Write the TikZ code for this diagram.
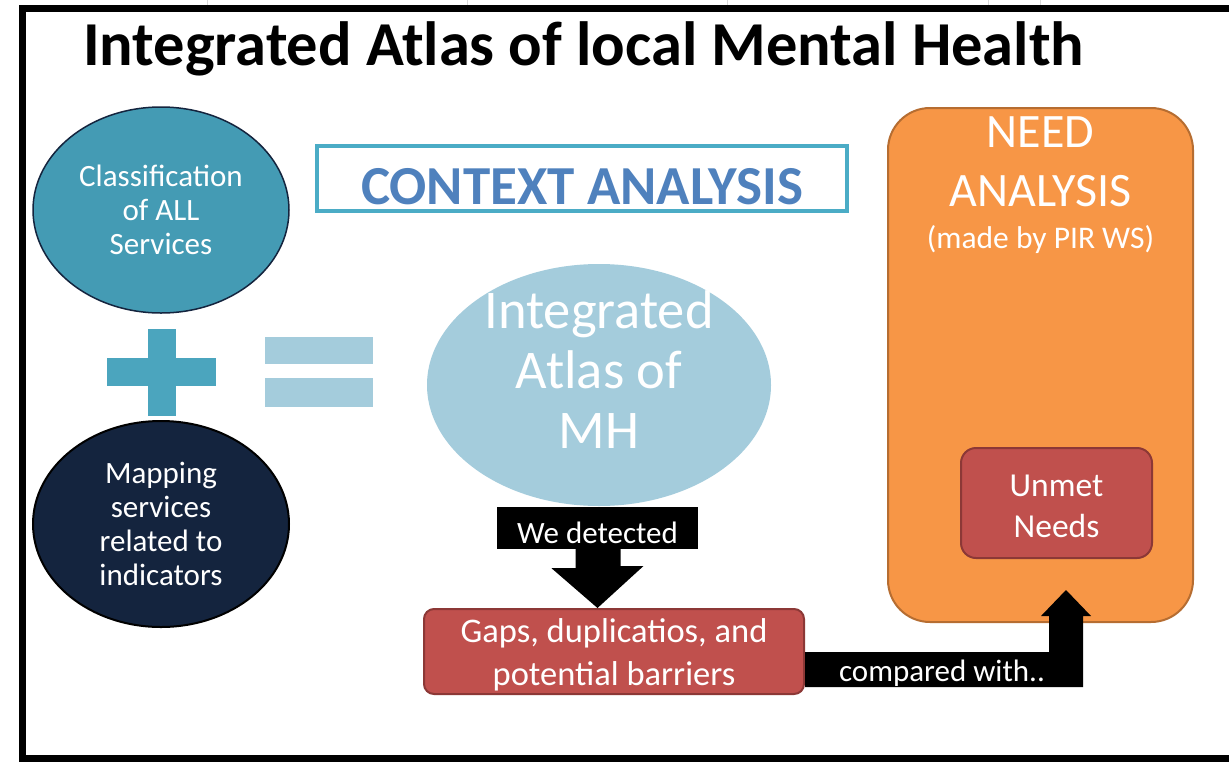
\documentclass[tikz,border=0pt]{standalone}
\usepackage{fontspec}
\setmainfont{Carlito}
\usepackage{tikz}
\usetikzlibrary{positioning,shapes.geometric,calc}
\definecolor{iateal}{RGB}{68,155,180}
\definecolor{ianavy}{RGB}{20,36,62}
\definecolor{iaplus}{RGB}{75,165,190}
\definecolor{ialight}{RGB}{164,204,220}
\definecolor{iaframe}{RGB}{75,172,198}
\definecolor{iactx}{RGB}{79,129,189}
\definecolor{iaorange}{RGB}{247,150,70}
\definecolor{iaorangeline}{RGB}{182,109,49}
\definecolor{iared}{RGB}{192,80,77}
\definecolor{iaredline}{RGB}{140,56,54}
\tikzset{
  iaoval/.style={
    ellipse,
    align=center,
    text=white,
    inner sep=0pt,
    font=\fontsize{31}{34}\selectfont
  },
  iaservice/.style={iaoval, fill=iateal, draw=ianavy, line width=1.5pt, minimum width=256pt, minimum height=206pt},
  iamapping/.style={iaoval, fill=ianavy, draw=black, line width=2pt, minimum width=256pt, minimum height=206pt},
  iaatlas/.style={iaoval, fill=ialight, minimum width=344pt, minimum height=242pt},
  iaredbox/.style={draw=iaredline, fill=iared, line width=2pt, rounded corners=10pt, inner sep=0pt},
  ianeed/.style={draw=iaorangeline, fill=iaorange, line width=2pt, rounded corners=42pt},
  iablack/.style={fill=black, text=white, font=\fontsize{31}{34}\selectfont, inner sep=0pt},
  iawhite/.style={text=white, inner sep=0pt, align=center}
}

\begin{document}
\begin{tikzpicture}[x=1pt,y=-1pt]
\useasboundingbox (0,0) rectangle (1229,761);
\fill[white] (0,0) rectangle (1229,761);
\foreach \gx in {207,467,727,988,1040}
  \draw[gray!30, line width=1pt] (\gx,0) -- (\gx,5);
\draw[line width=7pt] (1240,8.5) -- (22,8.5) -- (22,758) -- (1240,758);

\node[anchor=base west, inner sep=0pt, font=\fontsize{62.5}{70}\selectfont\bfseries] (title) at (83,65) {Integrated Atlas of local Mental Health};

% left side
\node[iaservice] (classif) at (161,210) {Classification\\of ALL\\Services};
\node[iamapping] (mapping) at (161,524) {Mapping\\services\\related to\\indicators};
\fill[iaplus] (107,358) rectangle (216,386);
\fill[iaplus] (148,329) rectangle (176,416);
\fill[ialight] (265,337) rectangle (373,364);
\fill[ialight] (265,378) rectangle (373,407);

% context analysis
\node[inner sep=0pt, text=iactx, font=\fontsize{55}{60}\selectfont\bfseries] (context) at (582,187) {CONTEXT ANALYSIS};
\draw[iaframe, line width=4pt] (317,146) rectangle (847,211);

\node[iaatlas] (atlas) at (599,385) {};
\node[iawhite, font=\fontsize{54.5}{60}\selectfont] (atlaslbl) at (599,370) {Integrated\\Atlas of\\MH};

\node[iablack, minimum width=201pt, minimum height=42pt, text height=30pt, text depth=0pt] (detect) at (597.5,528) {We detected};
\node[iaredbox, minimum width=380pt, minimum height=85pt] (gaps) at (614,651.5) {};
\node[iawhite, font=\fontsize{34.5}{43}\selectfont] (gapslbl) at ($(gaps)+(0,3)$) {Gaps, duplicatios, and\\potential barriers};
\fill ($(detect.south)+(-22,0)$) -- ++(0,19) -- ++(-24,0) -- (gaps.north -| detect.south) -- ++(46,-42) -- ++(-23,0) -- ++(0,-19) -- cycle;

% need analysis
\node[ianeed, minimum width=305pt, minimum height=514pt] (need) at (1040.5,365) {};
\node[iawhite, below=9pt of need.north, font=\fontsize{48}{59}\selectfont] (needttl) {NEED\\ANALYSIS};
\node[iawhite, below=19pt of needttl, font=\fontsize{31.5}{36}\selectfont] (needsub) {(made by PIR WS)};
\node[iaredbox, rounded corners=15pt, minimum width=191pt, minimum height=110pt] (unmet) at (1056.5,503) {};
\node[iawhite, font=\fontsize{33.5}{41}\selectfont] (unmetlbl) at ($(unmet)+(0,3)$) {Unmet\\Needs};

\coordinate (cmptip) at (1066,590);
\fill ($(gaps.east)+(0,0.5)$) -| ($(cmptip)+(-17,26)$) -- ++(-8,0) -- (cmptip) -- ++(25,26) -- ++(-8,0) |- ($(gaps.east)+(0,35.5)$) -- cycle;
\node[iawhite, font=\fontsize{31}{34}\selectfont] (cmplbl) at (942,673) {compared with..};
\end{tikzpicture}
\end{document}
